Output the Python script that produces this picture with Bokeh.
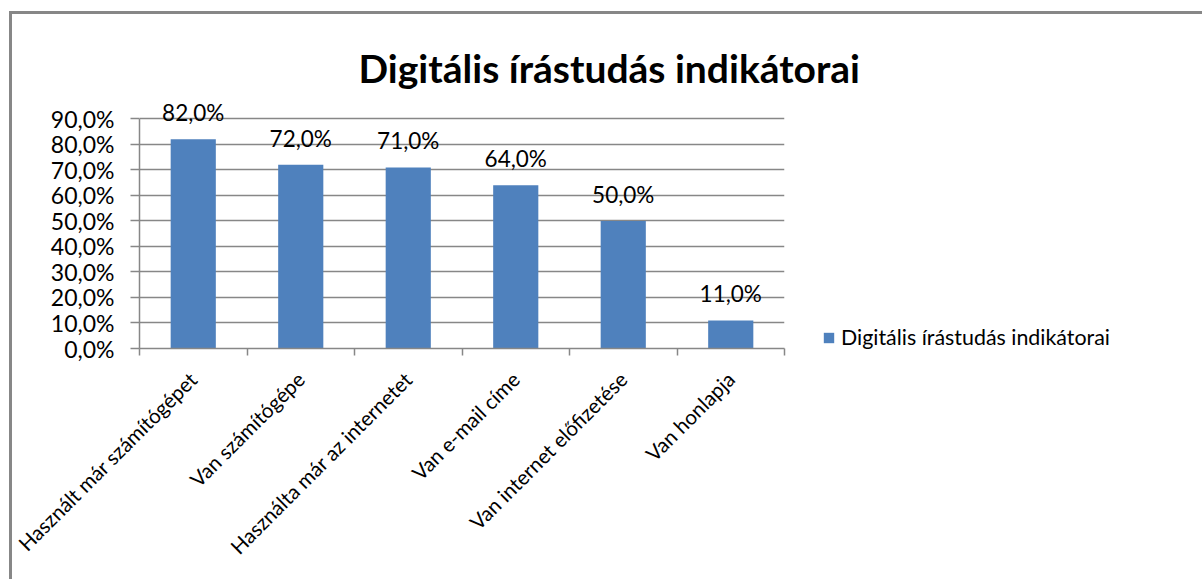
import math
from bokeh.plotting import figure
from bokeh.models import (ColumnDataSource, FixedTicker, LabelSet, Legend,
                          LegendItem, Range1d)
from bokeh.core.properties import value
from bokeh.embed import file_html
from bokeh.resources import INLINE

title_text = "Digitális írástudás indikátorai"
series_name = "Digitális írástudás indikátorai"
categories = ["Használt már számítógépet", "Van számítógépe",
              "Használta már az internetet", "Van e-mail címe",
              "Van internet előfizetése", "Van honlapja"]
values = [82.0, 72.0, 71.0, 64.0, 50.0, 11.0]
y_ticks = [0, 10, 20, 30, 40, 50, 60, 70, 80, 90]
y_tick_labels = ["0,0%", "10,0%", "20,0%", "30,0%", "40,0%", "50,0%",
                 "60,0%", "70,0%", "80,0%", "90,0%"]

BAR = "#4F81BD"
GRAY = "#878787"
FONT = "Lato"

xs = [i + 0.5 for i in range(len(categories))]
src = ColumnDataSource(dict(x=xs, top=values,
                            lbl=[("%.1f%%" % v).replace(".", ",") for v in values]))

p = figure(frame_width=645, frame_height=250, output_backend="svg",
           toolbar_location=None, title=title_text,
           x_range=Range1d(0, len(categories)), y_range=Range1d(0, 98),
           min_border_left=139, min_border_right=418,
           min_border_top=98, min_border_bottom=231)
p.outline_line_color = None
p.background_fill_color = "white"
p.border_fill_alpha = 0
p.styles = {
    "background": ("linear-gradient(#878787, #878787) 9px 11px / 100% 3px no-repeat, "
                   "linear-gradient(#878787, #878787) 9px 11px / 3px 100% no-repeat, "
                   "white"),
}

p.title.align = "left"
p.title.offset = 219
p.title.text_font = FONT
p.title.text_font_size = "39px"
p.title.text_font_style = "bold"
p.title.text_color = "black"
p.title.standoff = 16

r = p.vbar(x="x", top="top", width=0.42, bottom=0, source=src,
           fill_color=BAR, line_color=None)

# y axis
ya = p.yaxis[0]
ya.bounds = (0, 90)
ya.ticker = FixedTicker(ticks=y_ticks, minor_ticks=[])
ya.major_label_overrides = {t: l for t, l in zip(y_ticks, y_tick_labels)}
ya.major_label_text_font = FONT
ya.major_label_text_font_size = "23px"
ya.major_label_text_color = "black"
ya.major_tick_out = 9
ya.major_tick_in = 0
ya.major_tick_line_color = GRAY
ya.major_tick_line_width = 1.5
ya.minor_tick_line_color = None
ya.axis_line_color = GRAY
ya.axis_line_width = 1.5
ya.major_label_standoff = 16

# x axis
xa = p.xaxis[0]
xa.ticker = FixedTicker(ticks=xs, minor_ticks=list(range(len(categories) + 1)))
xa.major_label_overrides = {x: c for x, c in zip(xs, categories)}
xa.major_label_orientation = math.pi / 4
xa.major_label_text_font = FONT
xa.major_label_text_font_size = "20.5px"
xa.major_label_text_color = "black"
xa.major_tick_out = 0
xa.major_tick_in = 0
xa.major_tick_line_color = None
xa.minor_tick_out = 7
xa.minor_tick_in = 0
xa.minor_tick_line_color = GRAY
xa.minor_tick_line_width = 1.5
xa.axis_line_color = GRAY
xa.axis_line_width = 1.5
xa.major_label_standoff = 20

p.xgrid.visible = False
p.ygrid.ticker = FixedTicker(ticks=y_ticks)
p.ygrid.grid_line_color = GRAY
p.ygrid.grid_line_width = 1.5

# data labels
labels = LabelSet(x="x", y="top", text="lbl", source=src, text_align="center",
                  text_baseline="alphabetic", y_offset=18,
                  text_font=value(FONT), text_font_size=value("22.5px"),
                  text_color="black")
p.add_layout(labels)

# legend
leg = Legend(items=[LegendItem(label=series_name, renderers=[r])],
             location=(38, -2), padding=0, margin=0, spacing=0,
             glyph_width=13, glyph_height=13, label_standoff=6,
             label_text_font=FONT, label_text_font_size="21.4px",
             label_text_color="black", border_line_color=None,
             background_fill_alpha=0)
p.add_layout(leg, "right")

open("out.html", "w").write(file_html(p, INLINE))
